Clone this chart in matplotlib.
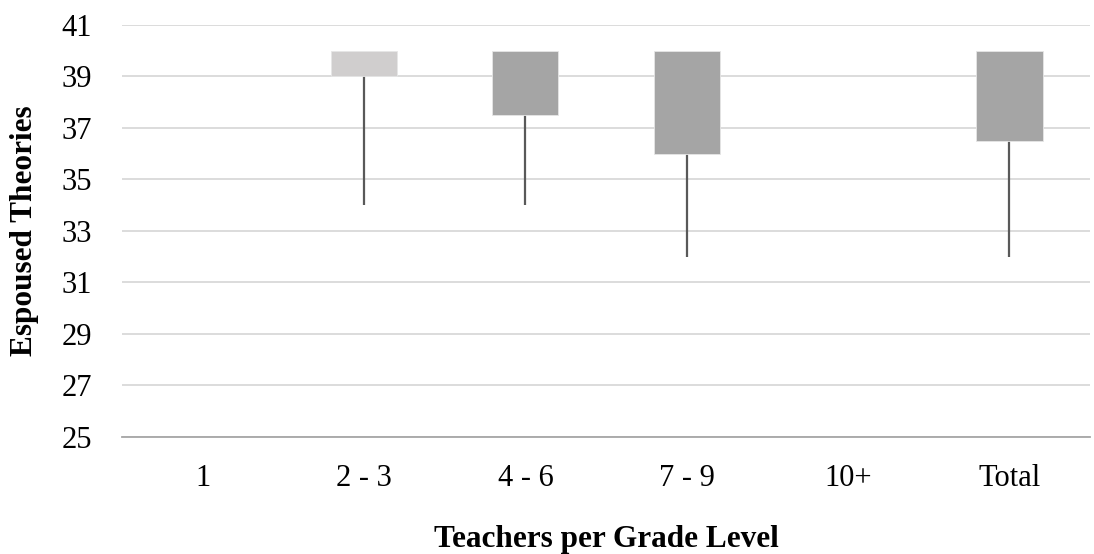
import matplotlib.pyplot as plt
import numpy as np

# Box plot built as in Excel: box from lower quartile to top, whisker down to minimum
categories = ["1", "2 - 3", "4 - 6", "7 - 9", "10+", "Total"]
box_low = [np.nan, 39.0, 37.5, 36.0, np.nan, 36.5]
box_high = [np.nan, 40.0, 40.0, 40.0, np.nan, 40.0]
whisker_low = [np.nan, 34.0, 34.0, 32.0, np.nan, 32.0]
box_colors = ["#a5a5a5", "#d0cece", "#a5a5a5", "#a5a5a5", "#a5a5a5", "#a5a5a5"]

plt.rcParams["font.family"] = ["Liberation Serif", "DejaVu Serif"]

fig = plt.figure(figsize=(10.94, 5.54), dpi=100)
ax = fig.add_axes([0.1115, 0.2112, 0.885, 0.7437])

x = np.arange(len(categories))
for i in x:
    if np.isnan(box_low[i]):
        continue
    ax.vlines(i, whisker_low[i], box_low[i], color="#595959", linewidth=1.6, zorder=2)
    ax.bar(i, box_high[i] - box_low[i], bottom=box_low[i], width=0.41,
           color=box_colors[i], edgecolor="#e6e6e6", linewidth=0.6, zorder=3)

ax.set_xlim(-0.5, len(categories) - 0.5)
ax.set_ylim(25, 41)
ax.set_yticks(np.arange(25, 42, 2))
ax.set_xticks(x)
ax.set_xticklabels(categories)
ax.yaxis.grid(True, color="#d9d9d9", linewidth=1.3)
ax.set_axisbelow(True)

for side in ["top", "right", "left"]:
    ax.spines[side].set_visible(False)
ax.spines["bottom"].set_color("#a6a6a6")
ax.spines["bottom"].set_linewidth(1.3)

ax.tick_params(axis="both", length=0, labelsize=22, colors="black")
ax.tick_params(axis="x", pad=19.5)
ax.tick_params(axis="y", pad=21.5)

ax.set_ylabel("Espoused Theories", fontsize=22.5, fontweight="bold", labelpad=16)
ax.set_xlabel("Teachers per Grade Level", fontsize=22.5, fontweight="bold", labelpad=23)

fig.savefig("out.png", dpi=100)
